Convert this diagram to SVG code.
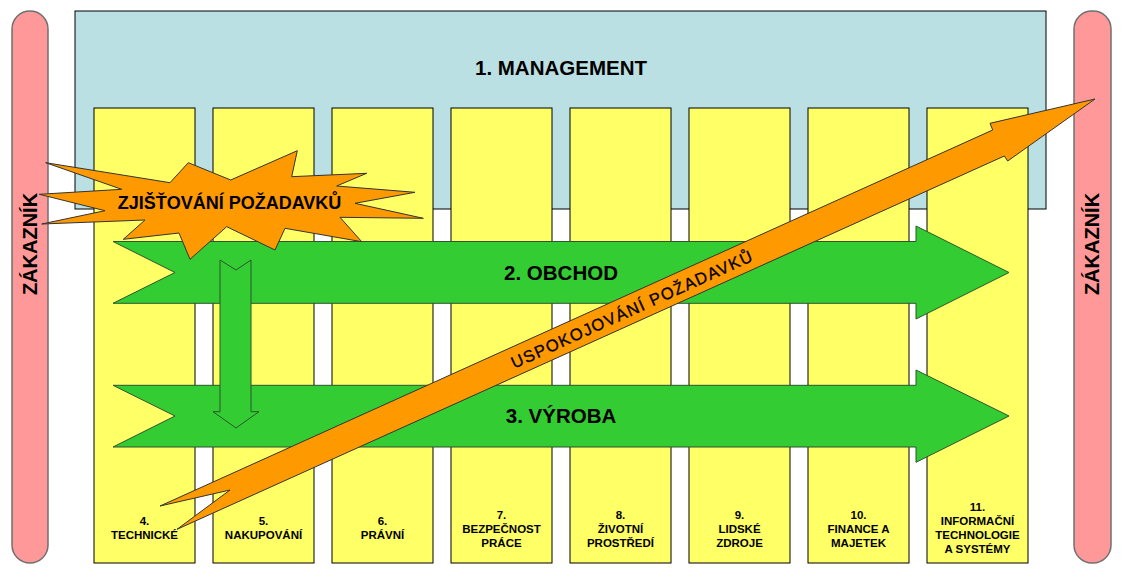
<svg xmlns="http://www.w3.org/2000/svg" width="1130" height="584" viewBox="0 0 1130 584">
<style>
.pill{fill:#FF9999;stroke:#707070;stroke-width:1.5}
.mgmt{fill:#BBE0E3;stroke:#000;stroke-width:1}
.col{fill:#FFFF66;stroke:#000;stroke-width:1}
.green{fill:#33CC33;stroke:#2E552E;stroke-width:1}
.orange{fill:#FF9900;stroke:#333;stroke-width:1}
.t{font-family:"Liberation Sans",Arial,sans-serif;font-weight:bold;fill:#000;text-anchor:middle}
.big{font-size:20.5px}
.lab{font-size:11.5px}
.zk{font-size:20px}
</style>
<rect width="1130" height="584" fill="#fff"/>
<g id="zakaznik-left">
<rect class="pill" x="12" y="11" width="36" height="552" rx="18" ry="18"/>
<text class="t zk" transform="translate(37,244) rotate(-90)" x="0" y="0">ZÁKAZNÍK</text>
</g>
<g id="zakaznik-right">
<rect class="pill" x="1074" y="11" width="37" height="552" rx="18" ry="18"/>
<text class="t zk" transform="translate(1099,244) rotate(-90)" x="0" y="0">ZÁKAZNÍK</text>
</g>
<g id="management">
<rect class="mgmt" x="75" y="11" width="971" height="198"/>
<text class="t big" x="561" y="75">1. MANAGEMENT</text>
</g>
<g id="col4"><rect class="col" x="94" y="108" width="101" height="455"/>
<text class="t lab" x="144.5" y="525">4.</text><text class="t lab" x="144.5" y="539">TECHNICKÉ</text></g>
<g id="col5"><rect class="col" x="213" y="108" width="101" height="455"/>
<text class="t lab" x="263.5" y="525">5.</text><text class="t lab" x="263.5" y="539">NAKUPOVÁNÍ</text></g>
<g id="col6"><rect class="col" x="332" y="108" width="101" height="455"/>
<text class="t lab" x="382.5" y="525">6.</text><text class="t lab" x="382.5" y="539">PRÁVNÍ</text></g>
<g id="col7"><rect class="col" x="451" y="108" width="101" height="455"/>
<text class="t lab" x="501.5" y="519">7.</text><text class="t lab" x="501.5" y="533">BEZPEČNOST</text><text class="t lab" x="501.5" y="547">PRÁCE</text></g>
<g id="col8"><rect class="col" x="570" y="108" width="101" height="455"/>
<text class="t lab" x="620.5" y="519">8.</text><text class="t lab" x="620.5" y="533">ŽIVOTNÍ</text><text class="t lab" x="620.5" y="547">PROSTŘEDÍ</text></g>
<g id="col9"><rect class="col" x="689" y="108" width="101" height="455"/>
<text class="t lab" x="739.5" y="519">9.</text><text class="t lab" x="739.5" y="533">LIDSKÉ</text><text class="t lab" x="739.5" y="547">ZDROJE</text></g>
<g id="col10"><rect class="col" x="808" y="108" width="101" height="455"/>
<text class="t lab" x="858.5" y="519">10.</text><text class="t lab" x="858.5" y="533">FINANCE A</text><text class="t lab" x="858.5" y="547">MAJETEK</text></g>
<g id="col11"><rect class="col" x="927" y="108" width="101" height="455"/>
<text class="t lab" x="977.5" y="511">11.</text><text class="t lab" x="977.5" y="525">INFORMAČNÍ</text><text class="t lab" x="977.5" y="539">TECHNOLOGIE</text><text class="t lab" x="977.5" y="553">A SYSTÉMY</text></g>
<g id="connectors">
<g id="obchod">
<polygon class="green" points="113,241.5 916,241.5 916,226 1009,272.5 916,319 916,303.3 113,303.3 175,272.5"/>
<text class="t big" x="561" y="279.5">2. OBCHOD</text>
</g>
<g id="vyroba">
<polygon class="green" points="113,385.3 916,385.3 916,370 1009,416 916,462.3 916,447 113,447 175,416"/>
<text class="t big" x="561" y="423">3. VÝROBA</text>
</g>
<polygon id="down-arrow" class="green" points="220,260 236,270 251,260 251,411.7 259,411.7 236,428 213,411.7 220,411.7"/>
<g id="uspokojovani">
<polygon class="orange" points="160,506 992.7,130 990,123.3 1095,99 1007.7,161 1004.3,156 177,529.3 230,490"/>
<text transform="translate(632,309) rotate(-24.33)" x="0" y="6" style="font-family:'Liberation Sans',Arial,sans-serif;font-size:16.5px;letter-spacing:1.3px;text-anchor:middle;fill:#000;stroke:#000;stroke-width:0.3">USPOKOJOVÁNÍ POŽADAVKŮ</text>
</g>
</g>
<g id="zjistovani">
<polygon class="orange" points="45.7,162.7 170,182.7 188.3,162.7 230.7,180 297.3,150.7 291.7,176.7 366.7,173.3 336.7,186 415,192.3 355,203.3 423.3,218.3 340,217.3 361.7,241.7 285,228.3 275,250 226.7,226.7 190,259.3 179,233 123.3,239.3 145,220 41.7,224 105,210.7 39.3,194.3 121.7,189.3"/>
<text class="t" style="font-size:18px" x="229.5" y="209">ZJIŠŤOVÁNÍ POŽADAVKŮ</text>
</g>
</svg>
